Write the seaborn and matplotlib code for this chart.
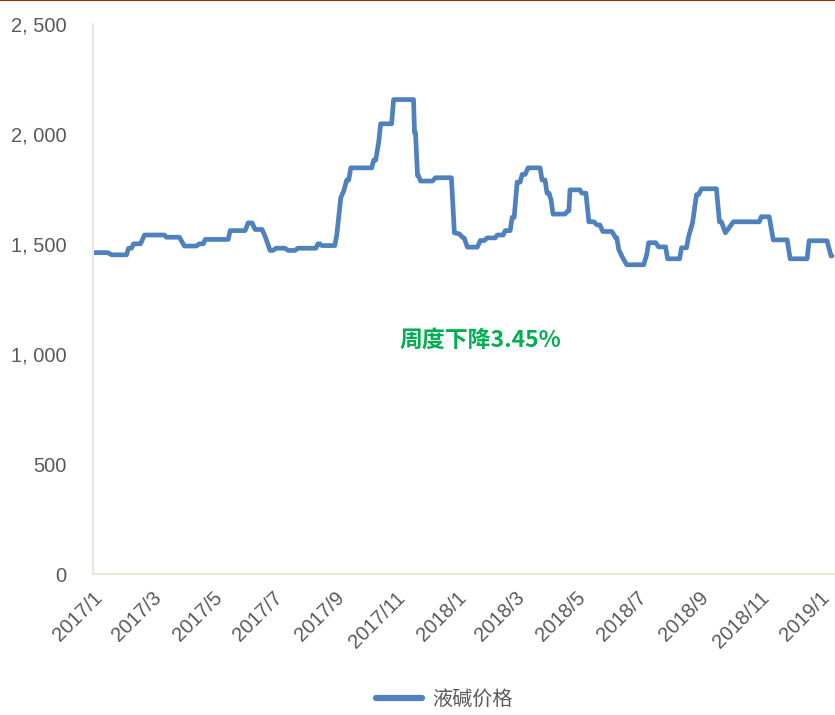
import matplotlib
matplotlib.use('Agg')
import matplotlib.pyplot as plt
import matplotlib.dates as mdates
import matplotlib.ticker as mticker
from matplotlib.lines import Line2D
import seaborn as sns
import pandas as pd

# weekly price of liquid caustic soda (yuan/ton)
dates = [
    '2017-01-01', '2017-01-16', '2017-01-20', '2017-02-04', '2017-02-06', '2017-02-09',
    '2017-02-11', '2017-02-18', '2017-02-22', '2017-03-14', '2017-03-16', '2017-03-29',
    '2017-04-03', '2017-04-15', '2017-04-18', '2017-04-22', '2017-04-24', '2017-05-17',
    '2017-05-19', '2017-06-03', '2017-06-06', '2017-06-10', '2017-06-13', '2017-06-20',
    '2017-06-23', '2017-06-28', '2017-07-01', '2017-07-04', '2017-07-13', '2017-07-16',
    '2017-07-23', '2017-07-26', '2017-08-13', '2017-08-15', '2017-08-17', '2017-08-19',
    '2017-09-01', '2017-09-03', '2017-09-07', '2017-09-10', '2017-09-13', '2017-09-15',
    '2017-09-17', '2017-10-08', '2017-10-10', '2017-10-12', '2017-10-15', '2017-10-17',
    '2017-10-28', '2017-10-30', '2017-11-19', '2017-11-20', '2017-11-21', '2017-11-23',
    '2017-11-24', '2017-11-26', '2017-12-08', '2017-12-11', '2017-12-27', '2017-12-30',
    '2018-01-04', '2018-01-07', '2018-01-09', '2018-01-12', '2018-01-22', '2018-01-25',
    '2018-01-29', '2018-02-01', '2018-02-09', '2018-02-11', '2018-02-17', '2018-02-19',
    '2018-02-24', '2018-02-26', '2018-02-28', '2018-03-03', '2018-03-06', '2018-03-08',
    '2018-03-11', '2018-03-14', '2018-03-26', '2018-03-28', '2018-03-31', '2018-04-02',
    '2018-04-04', '2018-04-06', '2018-04-08', '2018-04-20', '2018-04-23', '2018-04-24',
    '2018-04-25', '2018-05-05', '2018-05-07', '2018-05-11', '2018-05-14', '2018-05-19',
    '2018-05-22', '2018-05-25', '2018-05-28', '2018-06-06', '2018-06-10', '2018-06-11',
    '2018-06-13', '2018-06-17', '2018-06-21', '2018-07-08', '2018-07-11', '2018-07-13',
    '2018-07-20', '2018-07-23', '2018-07-30', '2018-08-01', '2018-08-13', '2018-08-15',
    '2018-08-20', '2018-08-22', '2018-08-26', '2018-08-30', '2018-09-01', '2018-09-04',
    '2018-09-19', '2018-09-22', '2018-09-24', '2018-09-28', '2018-10-06', '2018-11-01',
    '2018-11-03', '2018-11-11', '2018-11-15', '2018-11-29', '2018-12-02', '2018-12-19',
    '2018-12-21', '2019-01-08', '2019-01-12', '2019-01-13',
]
prices = [
    1460, 1460, 1450, 1450, 1480, 1480,
    1500, 1500, 1540, 1540, 1530, 1530,
    1490, 1490, 1500, 1500, 1520, 1520,
    1560, 1560, 1595, 1595, 1565, 1565,
    1535, 1470, 1470, 1480, 1480, 1470,
    1470, 1480, 1480, 1500, 1500, 1492,
    1492, 1540, 1710, 1740, 1790, 1790,
    1845, 1845, 1880, 1880, 1960, 2045,
    2045, 2155, 2155, 2005, 2005, 1810,
    1810, 1785, 1785, 1800, 1800, 1550,
    1545, 1530, 1525, 1485, 1485, 1515,
    1515, 1527, 1527, 1540, 1540, 1560,
    1560, 1620, 1620, 1780, 1780, 1815,
    1815, 1845, 1845, 1790, 1790, 1730,
    1730, 1700, 1635, 1635, 1650, 1650,
    1745, 1745, 1730, 1730, 1600, 1600,
    1586, 1586, 1556, 1556, 1527, 1527,
    1473, 1436, 1405, 1405, 1450, 1505,
    1505, 1486, 1486, 1432, 1432, 1482,
    1482, 1532, 1595, 1723, 1723, 1750,
    1750, 1600, 1600, 1550, 1600, 1600,
    1623, 1623, 1518, 1518, 1432, 1432,
    1514, 1514, 1445, 1445,
]
series_name = '液碱价格'
note_text = '周度下降3.45%'
y_ticks = [0, 500, 1000, 1500, 2000, 2500]

df = pd.DataFrame({'date': pd.to_datetime(dates), 'price': prices})

sns.set_style('white')
plt.rcParams['font.family'] = ['Liberation Sans', 'Noto Sans CJK SC', 'DejaVu Sans']

line_color = '#4f81bd'
axis_color = '#ebe7dc'
text_color = '#595959'

fig = plt.figure(figsize=(8.35, 7.15), dpi=100)
ax = fig.add_axes([0.111, 0.197, 0.889, 0.770])

sns.lineplot(data=df, x='date', y='price', color=line_color, linewidth=3.4,
             ax=ax, legend=False)
for ln in ax.get_lines():
    ln.set_solid_capstyle('round')
    ln.set_solid_joinstyle('round')

ax.set_xlim(pd.Timestamp('2017-01-01'), pd.Timestamp('2019-01-16'))
ax.set_ylim(0, 2500)
ax.set_yticks(y_ticks)
ax.yaxis.set_major_formatter(mticker.FuncFormatter(lambda v, p: f'{int(v):,}'.replace(',', ', ')))

ax.xaxis.set_major_locator(mdates.MonthLocator(bymonth=[1, 3, 5, 7, 9, 11]))
ax.xaxis.set_major_formatter(mticker.FuncFormatter(
    lambda v, p: f'{mdates.num2date(v).year}/{mdates.num2date(v).month}'))

for s in ['top', 'right']:
    ax.spines[s].set_visible(False)
for s in ['left', 'bottom']:
    ax.spines[s].set_color(axis_color)
    ax.spines[s].set_linewidth(1.5)

ax.tick_params(axis='both', which='major', direction='out', length=4, width=1.2,
               color=axis_color, labelcolor=text_color, labelsize=14.5, pad=6)
ax.tick_params(axis='y', length=5, pad=14)
plt.setp(ax.get_xticklabels(), rotation=45, ha='right', rotation_mode='anchor')
ax.set_xlabel('')
ax.set_ylabel('')

ax.text(pd.Timestamp('2018-01-25'), 1062, note_text, color='#00b050', fontsize=16.5,
        fontweight='bold', style='italic', ha='center', va='center',
        family=['Noto Sans CJK SC', 'DejaVu Sans'])

handle = Line2D([], [], color=line_color, linewidth=4.5, solid_capstyle='round')
fig.legend([handle], [series_name], loc='center', bbox_to_anchor=(0.532, 0.022),
           frameon=False, handlelength=2.3, handletextpad=0.5,
           labelcolor=text_color, prop={'family': ['Noto Sans CJK SC'], 'size': 14.5})

fig.add_artist(Line2D([0, 1], [0.9995, 0.9995], transform=fig.transFigure,
                      color='#a52a0a', linewidth=1.5))

fig.savefig('out.png', dpi=100)
